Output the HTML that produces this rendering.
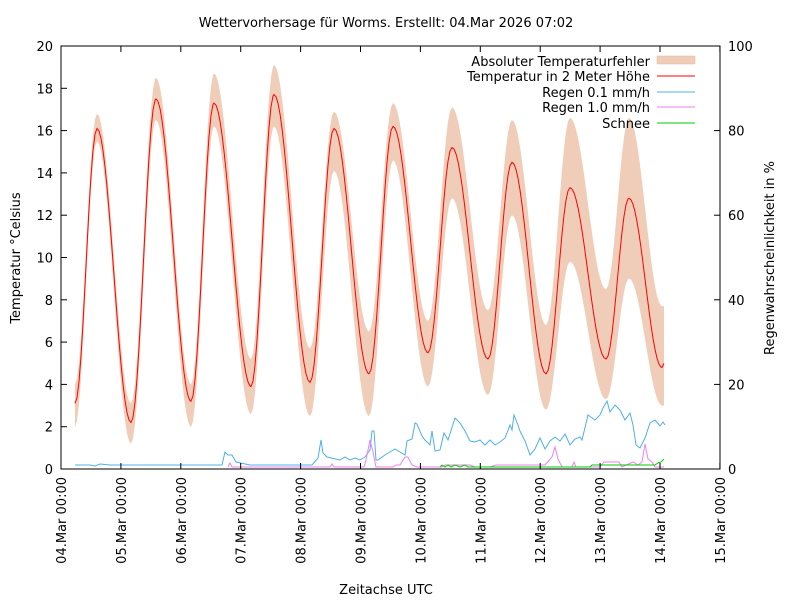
<!DOCTYPE html>
<html><head><meta charset="utf-8"><style>
body{margin:0;background:#fff}
text{font-family:"DejaVu Sans","Liberation Sans",sans-serif;font-size:13px;fill:#000}
</style></head><body>
<svg id="s" width="800" height="600" xmlns="http://www.w3.org/2000/svg">
<rect width="800" height="600" fill="#fff"/>
<text x="386" y="27" text-anchor="middle">Wettervorhersage für Worms. Erstellt: 04.Mar 2026 07:02</text>
<g id="band"></g>
<g id="lines"></g>
<rect x="61" y="46" width="659" height="423" fill="none" stroke="#000" stroke-width="1"/>
<g id="ticks"></g>
<text transform="translate(20,258) rotate(-90)" text-anchor="middle">Temperatur °Celsius</text>
<text transform="translate(774,258) rotate(-90)" text-anchor="middle">Regenwahrscheinlichkeit in %</text>
<text x="386" y="594" text-anchor="middle">Zeitachse UTC</text>
<g text-anchor="end">
<text x="650" y="66">Absoluter Temperaturfehler</text>
<text x="650" y="81">Temperatur in 2 Meter Höhe</text>
<text x="650" y="97">Regen 0.1 mm/h</text>
<text x="650" y="112">Regen 1.0 mm/h</text>
<text x="650" y="128">Schnee</text>
</g>
<rect x="657" y="56" width="38" height="8" fill="#f0cdb8" stroke="#e0b8a0" stroke-width="0.5"/>
<line x1="657" x2="695" y1="76" y2="76" stroke="#f00"/>
<line x1="657" x2="695" y1="92" y2="92" stroke="#4fb0e8"/>
<line x1="657" x2="695" y1="107" y2="107" stroke="#ee82ee"/>
<line x1="657" x2="695" y1="123" y2="123" stroke="#0c0"/>
</svg>
<script>
var NS="http://www.w3.org/2000/svg";
function el(p,n,a){var e=document.createElementNS(NS,n);for(var k in a)e.setAttribute(k,a[k]);p.appendChild(e);return e;}
function Y(t){return 469-t*21.15;}
var K=[[75,3.1,2,4],[97,16.1,15.5,16.8],[131,2.2,1.2,3.1],[156,17.5,16.5,18.5],[191,3.2,2,4],[214,17.3,16.2,18.7],[251,3.9,2.6,5.2],[274,17.7,16.2,19.1],[310,4.1,2.5,5.7],[334,16.1,14.1,16.9],[369,4.5,2.5,6.5],[393,16.2,14.6,17.3],[428,5.5,3.9,7],[452,15.2,12.8,17.1],[488,5.2,3.5,7.5],[512,14.5,12,16.5],[546,4.5,2.8,6.8],[570,13.3,9.8,16.6],[606,5.2,3.3,8.5],[629,12.8,9,16.6],[662,4.8,3,7.7],[664,5.0,3,7.7]];
var pts=[];
for(var i=0;i<K.length-1;i++){var a=K[i],b=K[i+1];for(var x=a[0];x<b[0];x+=2){var f=(1-Math.cos(Math.PI*(x-a[0])/(b[0]-a[0])))/2;pts.push([x,a[1]+(b[1]-a[1])*f,a[2]+(b[2]-a[2])*f,a[3]+(b[3]-a[3])*f]);}}
pts.push([664,5.0,3,7.7]);
var up=pts.map(p=>p[0]+","+Y(p[3]).toFixed(1)),lo=pts.slice().reverse().map(p=>p[0]+","+Y(p[2]).toFixed(1));
el(document.getElementById("band"),"polygon",{points:up.concat(lo).join(" "),fill:"#f0cdb8"});
var L=document.getElementById("lines");
el(L,"polyline",{points:"75,465 90,465 95,466 100,464 110,465 130,465 180,465 222,465 225,452 228,455 232,455 236,462 250,465 296,465 300,465 312,465 318,458 321,440 323,453 327,457 340,460 345,457 350,460 355,458 360,460 365,457 370,450 372,431 374,431 376,460 378,460 385,455 390,452 395,449 400,452 405,455 407,441 412,439 415,423 417,424 422,436 425,440 430,445 432,431 435,451 440,450 444,433 448,440 455,418 460,423 465,431 470,441 475,442 480,440 485,445 490,440 495,445 500,442 505,438 510,425 512,430 514,415 518,425 520,431 525,441 530,455 535,449 540,438 545,449 550,441 555,437 560,441 565,434 570,445 575,439 580,437 582,440 588,415 595,420 600,415 603,408 607,401 610,412 615,405 620,410 625,420 630,413 633,425 636,445 640,448 645,438 650,423 655,420 660,426 663,422 665,425",fill:"none",stroke:"#4fb0e8","stroke-width":1});
el(L,"polyline",{points:"228,467 230,463 232,467 330,467 332,464 334,467 364,467 366,460 370,440 373,452 376,467 393,467 396,465 400,465 405,457 408,457 412,465 417,467 442,467 445,465 470,465 475,467 490,467 496,465 545,465 552,457 555,447 558,459 562,467 572,467 574,462 576,467 600,467 604,462 619,462 622,467 633,462 638,465 642,462 645,444 648,459 652,462 655,467 664,467",fill:"none",stroke:"#ee82ee","stroke-width":1});
el(L,"polyline",{points:"440,467 442,465 445,467 448,465 451,467 455,465 460,467 465,465 468,467 590,467 592,465 655,465 658,463 661,462 664,459",fill:"none",stroke:"#0c0","stroke-width":1});
el(L,"polyline",{points:pts.map(p=>p[0]+","+Y(p[1]).toFixed(1)).join(" "),fill:"none",stroke:"#f00","stroke-width":1});
var T=document.getElementById("ticks");
for(var v=0;v<=20;v+=2){var y=Y(v);el(T,"line",{x1:61,x2:67,y1:y,y2:y,stroke:"#000"});var t=el(T,"text",{x:53,y:y+5,"text-anchor":"end"});t.textContent=v;}
for(var v=0;v<=100;v+=20){var y=469-v*4.23;el(T,"line",{x1:714,x2:720,y1:y,y2:y,stroke:"#000"});var t=el(T,"text",{x:728,y:y+5});t.textContent=v;}
var d=["04","05","06","07","08","09","10","11","12","13","14","15"];
for(var i=0;i<12;i++){var x=61+i*59.9;el(T,"line",{x1:x,x2:x,y1:463,y2:469,stroke:"#000"});el(T,"line",{x1:x,x2:x,y1:46,y2:52,stroke:"#000"});var t=el(T,"text",{transform:"translate("+(x+5)+",477) rotate(-90)","text-anchor":"end"});t.textContent=d[i]+".Mar 00:00";}
</script>
</body></html>
